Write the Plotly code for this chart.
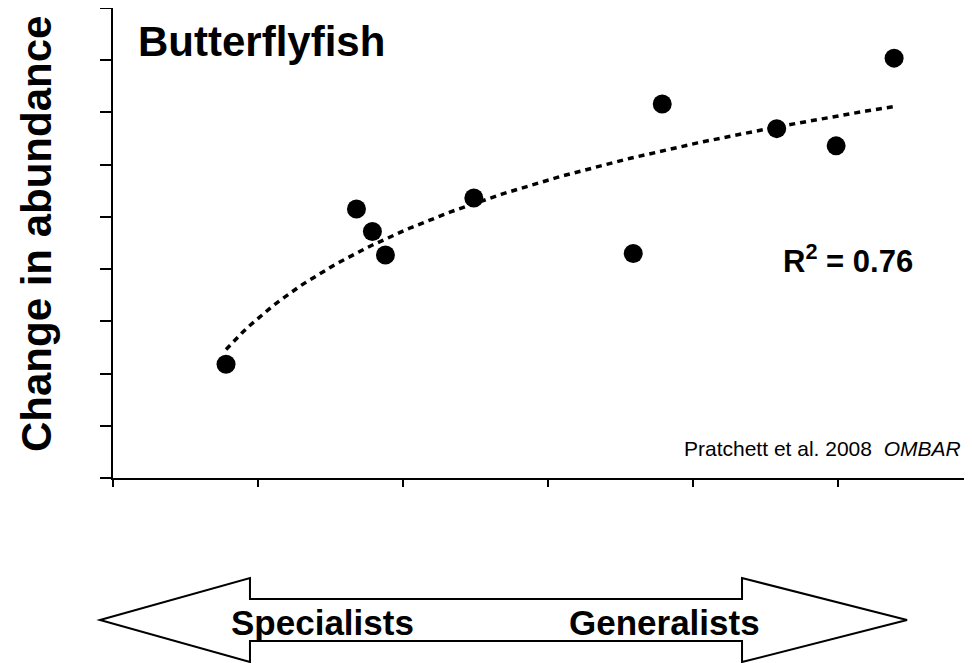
import numpy as np
import plotly.graph_objects as go

# feeding breadth (x) vs change in abundance (y)
breadth = [0.78, 1.68, 1.79, 1.88, 2.49, 3.59, 3.79, 4.58, 4.99, 5.39]
abundance_change = [2.18, 5.15, 4.72, 4.27, 5.36, 4.30, 7.16, 6.69, 6.36, 8.04]
x_ticks = [0, 1, 2, 3, 4, 5]
y_ticks = [0, 1, 2, 3, 4, 5, 6, 7, 8, 9]
arrow_labels = ["Specialists", "Generalists"]

# the page body has an 8px margin, so the figure is drawn 8px in from the corner
OFF = 8
W, H = 972 - OFF, 663 - OFF
L, R, T, B = 113 - OFF, 4, 8 - OFF, 663 - 478
pw, ph = W - L - R, H - T - B


def paper(px, py):
    # pixel position on the page -> paper coordinates
    return (px - OFF - L) / pw, (H - B - (py - OFF)) / ph


# logarithmic trendline, same as the spreadsheet fit
xs = np.array(breadth)
ys = np.array(abundance_change)
b, a = np.polyfit(np.log(xs), ys, 1)
pred = a + b * np.log(xs)
r2 = 1 - np.sum((ys - pred) ** 2) / np.sum((ys - ys.mean()) ** 2)
xfit = np.linspace(xs.min(), xs.max(), 120)
yfit = a + b * np.log(xfit)

fig = go.Figure()
fig.add_trace(go.Scatter(
    x=xfit, y=yfit, mode="lines",
    line=dict(color="black", width=3.5, dash="6px,5px"),
    hoverinfo="skip"
))
fig.add_trace(go.Scatter(
    x=breadth, y=abundance_change, mode="markers",
    marker=dict(color="black", size=19, line=dict(width=0))
))

bold = "Liberation Sans, Arial, sans-serif"

annotations = []
x0, y0 = paper(136, 41)
annotations.append(dict(text="<b>Butterflyfish</b>", x=x0, y=y0, xanchor="left", yanchor="middle",
                        font=dict(family=bold, size=42, color="black")))
x0, y0 = paper(36, 234)
annotations.append(dict(text="<b>Change in abundance</b>", x=x0, y=y0, textangle=-90,
                        xanchor="center", yanchor="middle",
                        font=dict(family=bold, size=42, color="black")))
x0, y0 = paper(781, 259)
annotations.append(dict(text="<b>R<sup>2</sup> = %.2f</b>" % r2, x=x0, y=y0,
                        xanchor="left", yanchor="middle",
                        font=dict(family=bold, size=31, color="black")))
x0, y0 = paper(963, 448)
annotations.append(dict(text="Pratchett et al. 2008  <i>OMBAR</i>", x=x0, y=y0,
                        xanchor="right", yanchor="middle",
                        font=dict(family=bold, size=21, color="black")))
for label, cx in zip(arrow_labels, [322, 664]):
    x0, y0 = paper(cx, 622)
    annotations.append(dict(text="<b>%s</b>" % label, x=x0, y=y0,
                            xanchor="center", yanchor="middle",
                            font=dict(family=bold, size=35, color="black")))
for ann in annotations:
    ann.update(xref="paper", yref="paper", showarrow=False)

# double-headed outline arrow under the axis
pts = [(100, 620), (250, 578), (250, 599), (742, 599), (742, 578), (907, 620),
       (742, 662), (742, 641), (250, 641), (250, 662)]
path = "M " + " L ".join("%.4f,%.4f" % paper(px, py) for px, py in pts) + " Z"

fig.update_layout(
    width=W, height=H,
    margin=dict(l=L, r=R, t=T, b=B),
    plot_bgcolor="white", paper_bgcolor="white",
    showlegend=False,
    annotations=annotations,
    shapes=[dict(type="path", path=path, xref="paper", yref="paper",
                 line=dict(color="black", width=2), fillcolor="white")],
    xaxis=dict(range=[0, 5.9], tickvals=x_ticks, showticklabels=False,
               ticks="outside", ticklen=7, tickwidth=2, tickcolor="black",
               showline=True, linecolor="black", linewidth=2,
               showgrid=False, zeroline=False),
    yaxis=dict(range=[0, 9], tickvals=y_ticks, showticklabels=False,
               ticks="outside", ticklen=11, tickwidth=2, tickcolor="black",
               showline=True, linecolor="black", linewidth=2,
               showgrid=False, zeroline=False),
)

fig.write_html("out.html")
